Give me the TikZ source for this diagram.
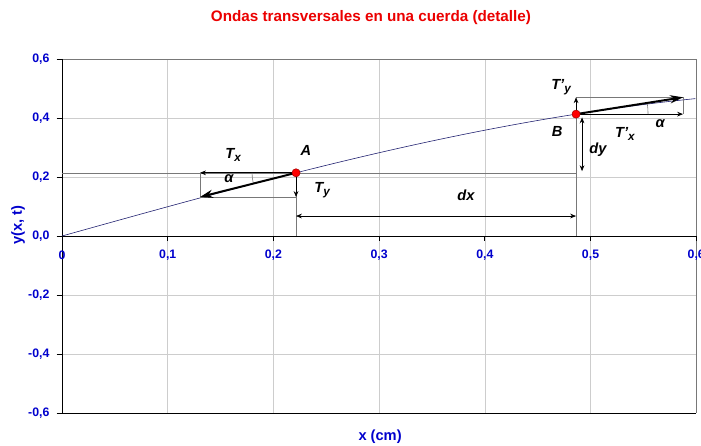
\documentclass[tikz,border=0pt]{standalone}
\usepackage{fontspec}
\setmainfont{Liberation Sans}
\usetikzlibrary{arrows.meta,calc}
\definecolor{tickblue}{RGB}{0,0,205}
\definecolor{titlered}{RGB}{235,0,0}
\definecolor{curvenavy}{RGB}{30,30,110}
\definecolor{gridgray}{RGB}{205,205,205}
\definecolor{guidegray}{RGB}{120,120,120}
\newcommand{\sublab}[2]{#1\raisebox{-0.45ex}{\fontsize{10}{10}\selectfont #2}}

\begin{document}
\begin{tikzpicture}[x=31.71cm,y=8.85cm,
    gridline/.style={draw=gridgray,line width=0.5pt},
    guide/.style={draw=guidegray,line width=0.5pt},
    comp/.style={-{Stealth[length=5pt,width=4pt]},line width=0.6pt},
    dimline/.style={{Stealth[length=5pt,width=4pt]}-{Stealth[length=5pt,width=4pt]},line width=0.6pt},
    vec/.style={-{Stealth[length=11pt,width=7pt]},line width=1.7pt},
    ticklab/.style={text=tickblue,font=\bfseries\fontsize{10.5}{12}\selectfont},
    lab/.style={font=\bfseries\itshape\fontsize{12.5}{14}\selectfont},
    point/.style={circle,fill=red,draw=red!60!black,inner sep=0pt,minimum size=7pt}]
    \useasboundingbox (-0.05866,-0.7085) rectangle (0.6045,0.8);
    % grid
    \foreach \gx in {0.1,0.2,...,0.61} \draw[gridline] (\gx,-0.6) -- (\gx,0.6);
    \foreach \gy in {-0.4,-0.2,0.2,0.4} \draw[gridline] (0,\gy) -- (0.6,\gy);
    \draw[draw=guidegray,line width=0.5pt] (0,0.6) -- (0.6,0.6) -- (0.6,-0.6);
    % axes
    \draw[line width=0.6pt] (0,0.6) -- (0,-0.6) -- (0.6,-0.6);
    \draw[line width=0.6pt] (0,0) -- (0.6,0);
    \foreach \ty/\tl in {0.6/{0,6},0.4/{0,4},0.2/{0,2},0/{0,0},-0.2/{-0,2},-0.4/{-0,4},-0.6/{-0,6}} {
        \draw[line width=0.6pt] (-0.005,\ty) -- (0,\ty);
        \node[ticklab,anchor=east] (ylab\ty) at (-0.008,\ty) {\tl};
    }
    \foreach \tx/\tl in {0/0,0.1/{0,1},0.2/{0,2},0.3/{0,3},0.4/{0,4},0.5/{0,5},0.6/{0,6}} {
        \draw[line width=0.6pt] (\tx,0) -- (\tx,-0.017);
        \node[ticklab] (xlab\tx) at (\tx,-0.066) {\tl};
    }
    \node[text=titlered,font=\bfseries\fontsize{13}{15}\selectfont] (title) at (0.2923,0.739) {Ondas transversales en una cuerda (detalle)};
    \node[text=tickblue,font=\bfseries\fontsize{12.5}{14}\selectfont,rotate=90] (ytitle) at (-0.0416,0.037) {y(x, t)};
    \node[text=tickblue,font=\bfseries\fontsize{12.5}{14}\selectfont] (xtitle) at (0.3009,-0.6814) {x (cm)};
    % string
    \draw[curvenavy,line width=0.5pt] plot[domain=0:0.6,samples=80] (\x,{0.5*sin(2*\x r)});
    \coordinate (A) at (0.2214,{0.5*sin(2*0.2214 r)});
    \coordinate (B) at (0.4863,{0.5*sin(2*0.4863 r)});
    \coordinate (TA) at (0.1306,0.1323);
    \coordinate (TB) at (0.5875,0.4702);
    \coordinate (Ax) at (A |- 0,0);
    \coordinate (Bx) at (B |- 0,0);
    \coordinate (Ay) at (0,0 |- A);
    % guide lines
    \draw[guide] (Ay) -- (B |- A);
    \draw[guide] (A) -- (Ax);
    \draw[guide] (B) -- (Bx);
    \draw[guide] (A -| TA) -- (TA) -- (TA -| A);
    \draw[guide] (B |- TB) -- (TB) -- (TB |- B);
    % components
    \draw[comp] (A) -- (A -| TA);
    \draw[comp] (A) -- (TA -| A);
    \draw[comp] (B) -- (TB -| B);
    \draw[comp] (B) -- (TB |- B);
    \draw[dimline] ($(A)+(0,-0.1465)$) -- ($(A -| B)+(0,-0.1465)$);
    \draw[dimline] ($(B)+(0.18cm,-0.1cm)$) -- ($(B |- A)+(0.18cm,0.05cm)$);
    % angles
    \draw[guide] ($(A)+(-1.32cm,0)$) arc[start angle=180,end angle=194.1,radius=1.32cm];
    \draw[guide] ($(B)+(2.16cm,0)$) arc[start angle=0,end angle=8.9,radius=2.16cm];
    % tensions
    \draw[vec] (A) -- (TA);
    \draw[vec] (B) -- (TB);
    \node[point] (pA) at (A) {};
    \node[point] (pB) at (B) {};
    % labels
    \node[lab] (lTx) at (0.1618,0.2746) {\sublab{T}{x}};
    \node[lab] (lalA) at (0.158,0.1932) {α};
    \node[lab] (lA) at (0.2308,0.2915) {A};
    \node[lab] (lTy) at (0.2460,0.1559) {\sublab{T}{y}};
    \node[lab] (ldx) at (0.3822,0.139) {dx};
    \node[lab] (lTyp) at (0.4721,0.5051) {\sublab{T'}{y}};
    \node[lab] (lB) at (0.4683,0.3559) {B};
    \node[lab] (lTxp) at (0.5326,0.3458) {\sublab{T'}{x}};
    \node[lab] (ldy) at (0.5071,0.2915) {dy};
    \node[lab] (lalB) at (0.5658,0.3797) {α};
\end{tikzpicture}
\end{document}
